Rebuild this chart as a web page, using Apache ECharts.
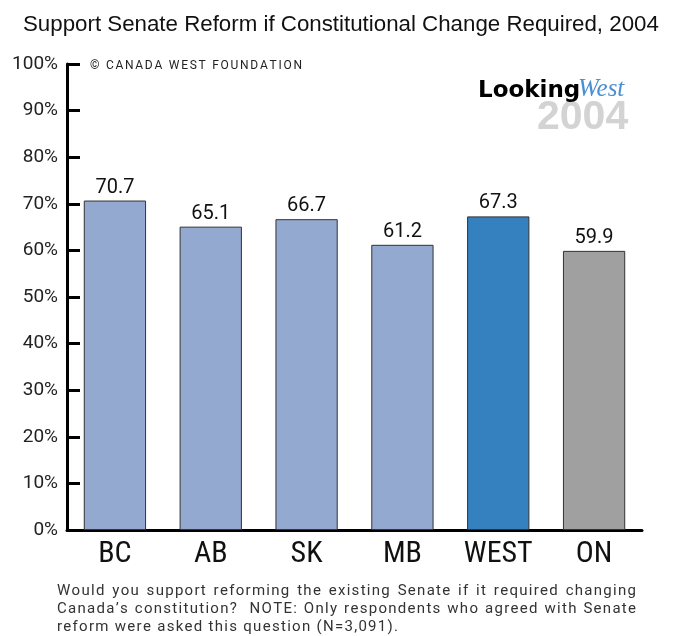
<!DOCTYPE html>
<html>
<head>
<meta charset="utf-8">
<script src="https://cdn.jsdelivr.net/npm/echarts@6/dist/echarts.min.js"></script>
<style>
  html, body { margin: 0; padding: 0; background: #fff; }
  #chart { width: 676px; height: 636px; }
</style>
</head>
<body>
<div id="chart"></div>
<script>
// Share supporting Senate reform when a constitutional change is required (2004 survey)
const regions = ['BC', 'AB', 'SK', 'MB', 'WEST', 'ON'];
const support = [70.7, 65.1, 66.7, 61.2, 67.3, 59.9];
const barColors = ['#94a9d0', '#94a9d0', '#94a9d0', '#94a9d0', '#3580bf', '#a0a0a0'];
const yTicks = [0, 10, 20, 30, 40, 50, 60, 70, 80, 90, 100];

const titleText = 'Support Senate Reform if Constitutional Change Required, 2004';
const creditText = '\u00A9 CANADA WEST FOUNDATION';
const noteLines = [
  'Would you support reforming the existing Senate if it required changing',
  'Canada\u2019s constitution?  NOTE: Only respondents who agreed with Senate',
  'reform were asked this question (N=3,091).'
];

const condensed = '"Liberation Sans Narrow", "Roboto Condensed", Roboto, sans-serif';
const noteFont = '15px "Liberation Sans Narrow", Roboto, sans-serif';
const creditFont = '12px Roboto, sans-serif';

// Letter-spaced text drawn glyph by glyph
const measureCtx = document.createElement('canvas').getContext('2d');
function glyphWidths(line, font) {
  measureCtx.font = font;
  return Array.from(line).map(c => measureCtx.measureText(c).width);
}
// Letter spacing that makes a line span the given width
function spacingFor(line, font, width) {
  const w = glyphWidths(line, font);
  return (width - w.reduce((a, b) => a + b, 0)) / (w.length - 1);
}
function spacedText(line, font, fill, x0, y, letterSpacing, targetWidth) {
  const chars = Array.from(line);
  const widths = glyphWidths(line, font);
  const natural = widths.reduce((a, b) => a + b, 0) + letterSpacing * (chars.length - 1);
  const spaces = chars.filter(c => c === ' ').length;
  const extra = targetWidth && spaces ? (targetWidth - natural) / spaces : 0;
  const out = [];
  let x = x0;
  chars.forEach((c, i) => {
    if (c !== ' ') {
      out.push({ type: 'text', x: x, y: y, style: { text: c, font: font, fill: fill, textVerticalAlign: 'middle' } });
    }
    x += widths[i] + letterSpacing + (c === ' ' ? extra : 0);
  });
  return out;
}

const graphics = [
  // LookingWest 2004 badge
  { type: 'text', left: 537, top: 97, z: 1,
    style: { text: '2004', font: 'bold 41px "Liberation Sans Narrow", sans-serif', fill: '#d3d3d3' } },
  { type: 'text', left: 478, top: 80, z: 2,
    style: { text: 'Looking', font: 'bold 23px "DejaVu Sans", sans-serif', fill: '#000' } },
  { type: 'text', left: 578, top: 77, z: 2,
    style: { text: 'West', font: 'italic 25px "Liberation Serif", serif', fill: '#4a8ed4' } }
];
graphics.push(...spacedText(creditText, creditFont, '#222', 90, 66, spacingFor(creditText, creditFont, 212)));
const noteSpacing = spacingFor(noteLines[noteLines.length - 1], noteFont, 341);
noteLines.forEach((line, i) => {
  const last = i === noteLines.length - 1;
  graphics.push(...spacedText(line, noteFont, '#333', 57, 591 + i * 18, noteSpacing, last ? 0 : 579));
});

const chart = echarts.init(document.getElementById('chart'));
chart.setOption({
  animation: false,
  backgroundColor: '#fff',
  title: {
    text: titleText,
    left: 18, top: 9,
    textStyle: { fontFamily: '"Liberation Sans", sans-serif', fontSize: 22.3, fontWeight: 'normal', color: '#111' }
  },
  grid: { left: 67, right: 34, top: 64, bottom: 106 },
  xAxis: {
    type: 'category',
    data: regions,
    axisLine: { lineStyle: { color: '#000', width: 3 } },
    axisTick: { show: false },
    axisLabel: { fontFamily: condensed, fontSize: 30, color: '#111', margin: 9 }
  },
  yAxis: {
    type: 'value',
    min: 0, max: 100, interval: 10,
    axisLine: { show: true, lineStyle: { color: '#000', width: 3 } },
    axisTick: { show: true, inside: true, length: 13, lineStyle: { color: '#000', width: 3 } },
    splitLine: { show: false },
    axisLabel: {
      fontFamily: 'Roboto, sans-serif', fontSize: 19, color: '#222', margin: 9,
      formatter: v => yTicks.includes(v) ? v + '%' : ''
    }
  },
  series: [{
    type: 'bar',
    barWidth: '65%',
    data: support.map((v, i) => ({
      value: v,
      itemStyle: { color: barColors[i], borderColor: '#333', borderWidth: 1 }
    })),
    label: {
      show: true, position: 'top', distance: 3,
      fontFamily: 'Roboto, sans-serif', fontSize: 20, color: '#111',
      formatter: p => p.value.toFixed(1)
    }
  }],
  graphic: graphics
});
</script>
</body>
</html>
